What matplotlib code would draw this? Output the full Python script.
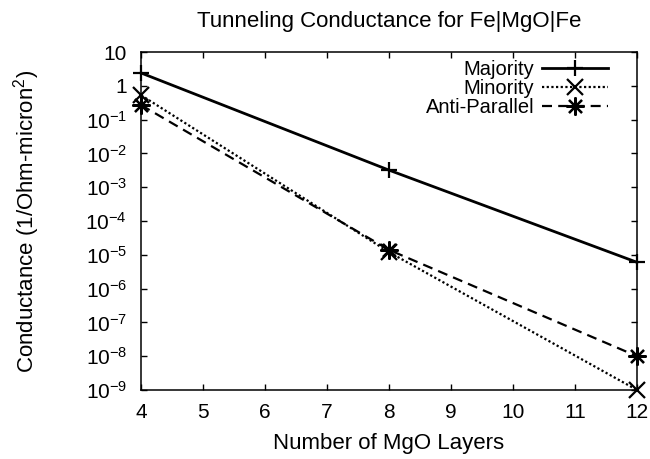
import matplotlib
matplotlib.use("Agg")
import matplotlib.pyplot as plt
from matplotlib.ticker import FixedLocator, NullLocator

layers = [4, 8, 12]
majority = [2.4, 3.2e-3, 6.0e-6]
minority = [0.53, 1.2e-5, 1.0e-9]
anti_parallel = [0.27, 1.4e-5, 1.0e-8]
xticks = [4, 5, 6, 7, 8, 9, 10, 11, 12]
yticks = [1e-9, 1e-8, 1e-7, 1e-6, 1e-5, 1e-4, 1e-3, 1e-2, 1e-1, 1, 10]
ytick_labels = [r"10$^{-9}$", r"10$^{-8}$", r"10$^{-7}$", r"10$^{-6}$", r"10$^{-5}$",
                r"10$^{-4}$", r"10$^{-3}$", r"10$^{-2}$", r"10$^{-1}$", "1", "10"]

plt.rcParams['font.family'] = ['Liberation Sans', 'DejaVu Sans']
plt.rcParams['mathtext.fontset'] = 'custom'
plt.rcParams['mathtext.rm'] = 'Liberation Sans'
plt.rcParams['mathtext.it'] = 'Liberation Sans'

W, H = 650, 459
fig = plt.figure(figsize=(W/100, H/100), dpi=100)
L, R, T, B = 141, 637, 52, 390
ax = fig.add_axes([L/W, 1-B/H, (R-L)/W, (B-T)/H])

ax.plot(layers, majority, color='black', lw=2.0, ls='-', marker='+', ms=12, mew=1.6,
        label='Majority', clip_on=False)
ax.plot(layers, minority, color='black', lw=1.6, ls=(0, (1, 1.1)), marker='x', ms=11, mew=1.6,
        label='Minority', clip_on=False)
ax.plot(layers, anti_parallel, color='black', lw=1.6, ls=(0, (4.5, 2.8)), marker=(8, 2, 0), ms=13, mew=1.6,
        label='Anti-Parallel', clip_on=False)

ax.set_yscale('log')
ax.set_xlim(4, 12)
ax.set_ylim(1e-9, 10)
ax.xaxis.set_major_locator(FixedLocator(xticks))
ax.yaxis.set_major_locator(FixedLocator(yticks))
ax.yaxis.set_minor_locator(NullLocator())
ax.set_yticklabels(ytick_labels)
ax.tick_params(direction='in', length=4.5, width=1, top=True, right=True, labelsize=15)
ax.tick_params(axis='y', pad=10)
ax.tick_params(axis='x', pad=9)
for s in ax.spines.values():
    s.set_linewidth(1.1)

fig.text((L+R)/2/W, 1-22/H, "Tunneling Conductance for Fe|MgO|Fe", fontsize=16,
         ha='center', va='center')
ax.set_xlabel("Number of MgO Layers", fontsize=16, va='center')
ax.xaxis.set_label_coords(0.5, (B-443)/(B-T))
ax.set_ylabel("Conductance (1/Ohm-micron$^2$)", fontsize=16, va='center')
ax.yaxis.set_label_coords((27-L)/(R-L), 0.5)

leg = ax.legend(loc='upper right', bbox_to_anchor=((608-L)/(R-L), 1-(60-T)/(B-T)),
                frameon=False, markerfirst=False, fontsize=14.5,
                handlelength=3.3, labelspacing=0.0, borderaxespad=0, borderpad=0,
                handletextpad=0.35)

fig.savefig("out.png", dpi=100)
